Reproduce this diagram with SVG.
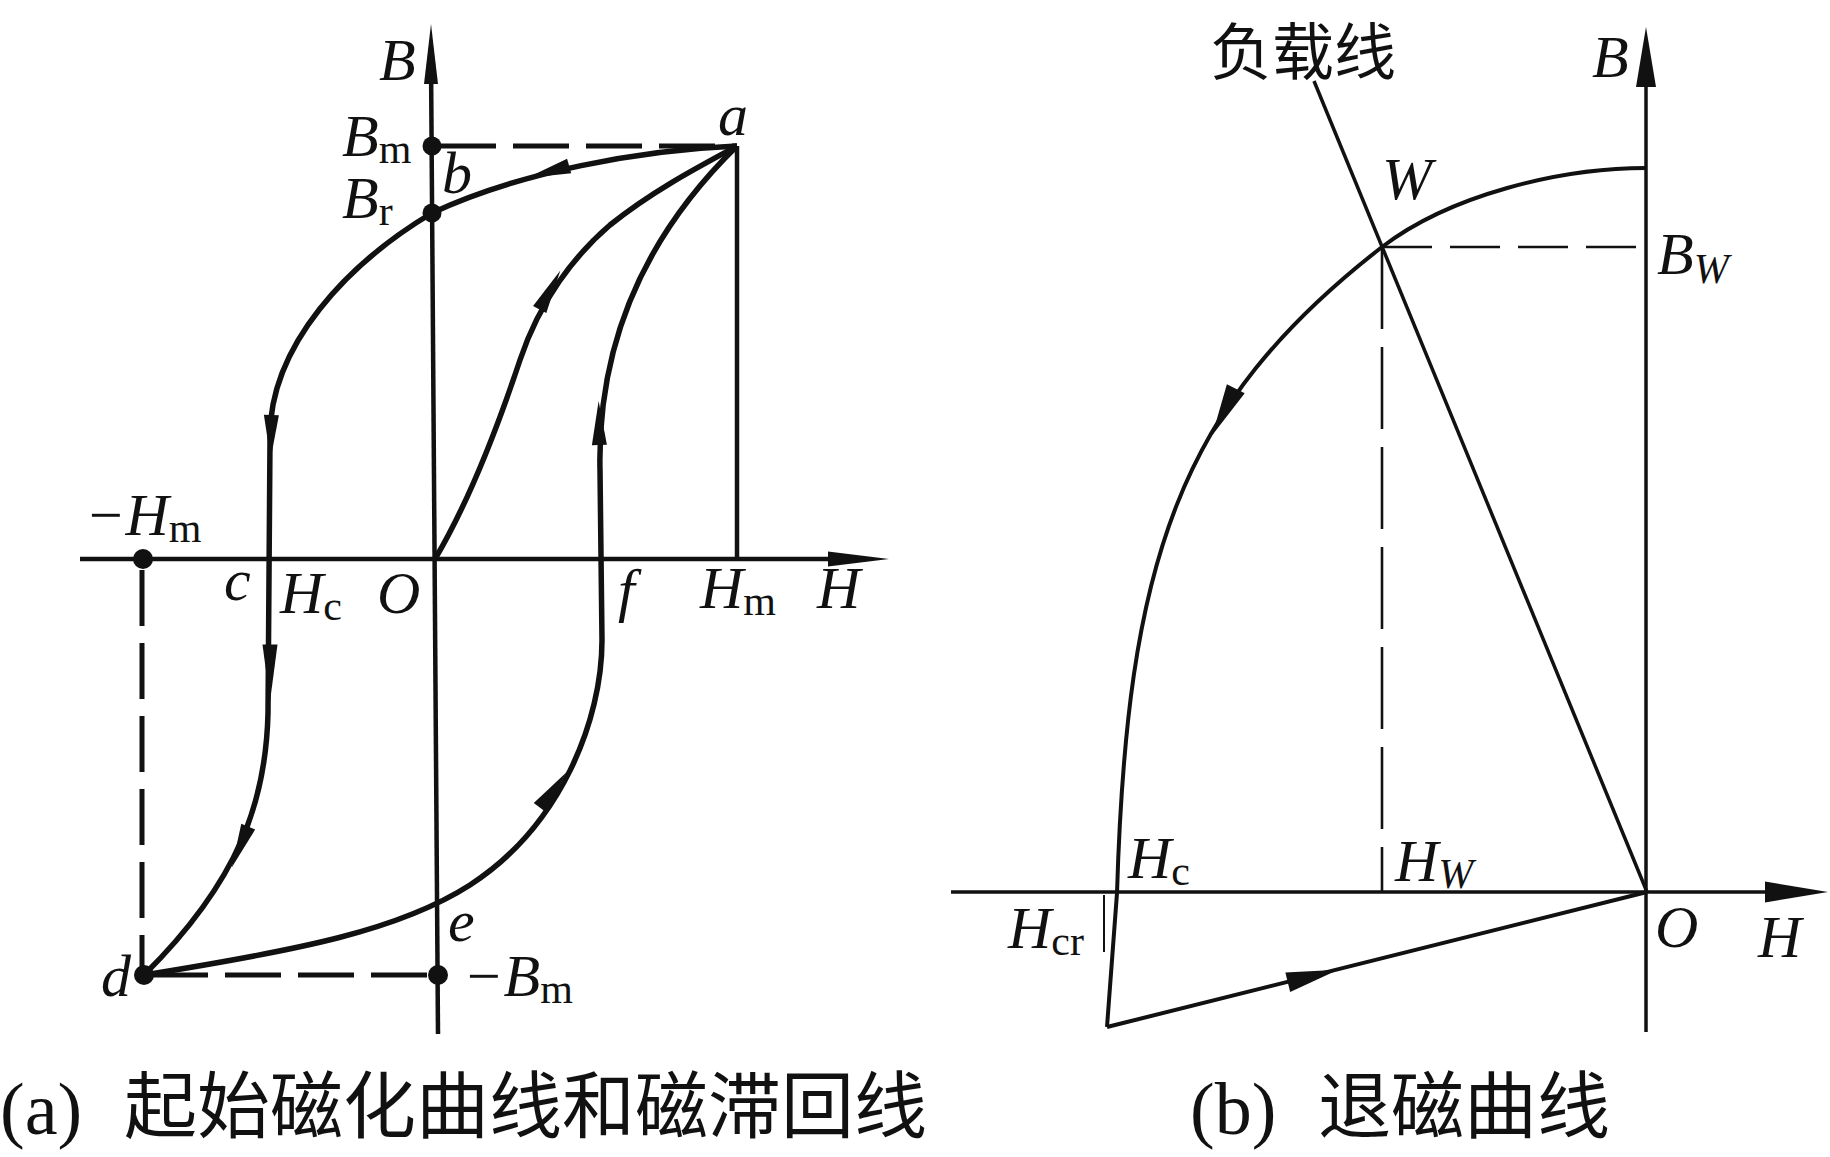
<svg xmlns="http://www.w3.org/2000/svg" xmlns:xlink="http://www.w3.org/1999/xlink" width="1830" height="1157" viewBox="0 0 1830 1157">
<style>
.ax{stroke:#111;stroke-width:4.5;fill:none;stroke-linecap:butt}
.cv{stroke:#111;stroke-width:5.5;fill:none;stroke-linejoin:round}
.cvb{stroke:#111;stroke-width:4;fill:none;stroke-linejoin:round}
.axb{stroke:#111;stroke-width:3.5;fill:none}
.dA{stroke:#111;stroke-width:5;fill:none;stroke-dasharray:56 17}
.dB{stroke:#111;stroke-width:2.6;fill:none;stroke-dasharray:50 18}
.dBv{stroke:#111;stroke-width:2.6;fill:none;stroke-dasharray:82 18}
.fill{fill:#111;stroke:none}
.lbl{font-family:"Liberation Serif","Times New Roman",serif;font-style:italic;font-size:60px;fill:#111}
.sub{font-style:normal;font-size:42px}
.subi{font-style:italic;font-size:42px}
.cap{font-family:"Liberation Serif","Times New Roman",serif;font-size:74px;fill:#111}
.cjk{font-family:"Noto Sans CJK SC","Noto Sans CJK JP",sans-serif;fill:#111}
</style>
<defs>
<path id="ahA" d="M22,0 L-22,-7.5 L-22,7.5 Z" class="fill"/>
<path id="ahB" d="M26,0 L-26,-10 L-26,10 Z" class="fill"/>
</defs>
<rect width="1830" height="1157" fill="#fff"/>

<g id="connectors">
  <!-- panel (a) axes -->
  <line class="ax" x1="431" y1="60" x2="438" y2="1034"/>
  <polygon class="fill" points="431,24 438,84 424,84"/>
  <line class="ax" x1="80" y1="559" x2="840" y2="559"/>
  <polygon class="fill" points="889,559 828,551.5 828,566.5"/>
  <!-- panel (a) guides -->
  <line class="dA" x1="440" y1="146" x2="737" y2="146"/>
  <line class="ax" x1="737" y1="146" x2="737" y2="559"/>
  <line class="dA" x1="142" y1="570" x2="142" y2="975"/>
  <line class="dA" x1="152" y1="975" x2="438" y2="975"/>
  <!-- panel (a) curves -->
  <path id="initial-curve" class="cv" d="M435,559 C470,500 500,420 520,360 C540,300 575,255 610,225 C652,191 700,166 737,146"/>
  <path id="descending-branch" class="cv" d="M737,146 C640,150 520,172 432,213 C350,262 268,345 270,440 L268,713 C266,800 240,880 144,975"/>
  <path id="ascending-branch" class="cv" d="M144,975 C300,950 400,930 470,885 C561,826 602,720 602,640 L600,470 C598,380 620,260 737,146"/>
  <use xlink:href="#ahA" href="#ahA" transform="translate(548,172) rotate(164)"/>
  <use xlink:href="#ahA" href="#ahA" transform="translate(550,290) rotate(-62)"/>
  <use xlink:href="#ahA" href="#ahA" transform="translate(599,423) rotate(-91)"/>
  <use xlink:href="#ahA" href="#ahA" transform="translate(271,437) rotate(91)"/>
  <use xlink:href="#ahA" href="#ahA" transform="translate(270,673) rotate(90) scale(1.3,1)"/>
  <use xlink:href="#ahA" href="#ahA" transform="translate(240,847) rotate(112)"/>
  <use xlink:href="#ahA" href="#ahA" transform="translate(553,790) rotate(-53)"/>

  <!-- panel (b) axes -->
  <line class="axb" x1="1646" y1="80" x2="1646" y2="1032"/>
  <polygon class="fill" points="1646,27 1656,87 1636,87"/>
  <line class="axb" x1="951" y1="892" x2="1770" y2="892"/>
  <polygon class="fill" points="1828,892 1765,881.5 1765,902.5"/>
  <!-- panel (b) guides -->
  <line class="dB" x1="1382" y1="247" x2="1646" y2="247"/>
  <line class="dBv" x1="1382" y1="247" x2="1382" y2="892"/>
  <line class="axb" x1="1314" y1="81" x2="1647" y2="892"/>
  <line stroke="#111" stroke-width="2" x1="1104" y1="895" x2="1104" y2="952"/>
  <!-- panel (b) curves -->
  <path id="demag-curve" class="cvb" d="M1646,168 C1560,168 1450,195 1382,247 C1177,406 1127,563 1117,893 L1107,1027"/>
  <path id="recoil-line" class="cvb" d="M1107,1027 L1647,892"/>
  <use xlink:href="#ahB" href="#ahB" transform="translate(1224,412) rotate(117)"/>
  <use xlink:href="#ahB" href="#ahB" transform="translate(1313,976) rotate(-14)"/>
</g>

<g id="node-Bm"><circle class="fill" cx="432" cy="146" r="9.5"/><text class="lbl" x="342" y="156">B<tspan class="sub" dy="7">m</tspan></text></g>
<g id="node-Br"><circle class="fill" cx="432" cy="213" r="9.5"/><text class="lbl" x="342" y="218">B<tspan class="sub" dy="7">r</tspan></text></g>
<g id="node-b"><text class="lbl" x="442" y="193">b</text></g>
<g id="node-a"><text class="lbl" x="718" y="135">a</text></g>
<g id="node-B-a"><text class="lbl" x="379" y="80">B</text></g>
<g id="node-negHm"><circle class="fill" cx="143" cy="559" r="10"/><text class="lbl" x="85" y="535">−H<tspan class="sub" dy="7">m</tspan></text></g>
<g id="node-c"><text class="lbl" x="224" y="600">c</text></g>
<g id="node-Hc-a"><text class="lbl" x="280" y="613">H<tspan class="sub" dy="7">c</tspan></text></g>
<g id="node-O-a"><text class="lbl" x="377" y="613">O</text></g>
<g id="node-f"><text class="lbl" x="618" y="610">f</text></g>
<g id="node-Hm"><text class="lbl" x="700" y="608">H<tspan class="sub" dy="7">m</tspan></text></g>
<g id="node-H-a"><text class="lbl" x="817" y="608">H</text></g>
<g id="node-e"><text class="lbl" x="448" y="941">e</text></g>
<g id="node-d"><circle class="fill" cx="144" cy="975" r="10"/><text class="lbl" x="101" y="996">d</text></g>
<g id="node-negBm"><circle class="fill" cx="438" cy="975" r="10"/><text class="lbl" x="463" y="996">−B<tspan class="sub" dy="7">m</tspan></text></g>

<g id="node-loadline"><text class="cjk" x="1210" y="75" font-size="62">负载线</text></g>
<g id="node-B-b"><text class="lbl" x="1592" y="77">B</text></g>
<g id="node-W"><text class="lbl" x="1382" y="199">W</text></g>
<g id="node-BW"><text class="lbl" x="1657" y="274">B<tspan class="subi" dy="9">W</tspan></text></g>
<g id="node-Hc-b"><text class="lbl" x="1128" y="878">H<tspan class="sub" dy="7">c</tspan></text></g>
<g id="node-HW"><text class="lbl" x="1395" y="881">H<tspan class="subi" dy="7">W</tspan></text></g>
<g id="node-Hcr"><text class="lbl" x="1008" y="948">H<tspan class="sub" dy="7">cr</tspan></text></g>
<g id="node-O-b"><text class="lbl" x="1655" y="947">O</text></g>
<g id="node-H-b"><text class="lbl" x="1758" y="957">H</text></g>

<g id="caption-a"><text class="cap" x="0" y="1134">(a)</text><text class="cjk" x="124" y="1132" font-size="73">起始磁化曲线和磁滞回线</text></g>
<g id="caption-b"><text class="cap" x="1190" y="1134">(b)</text><text class="cjk" x="1318" y="1132" font-size="73">退磁曲线</text></g>
</svg>
